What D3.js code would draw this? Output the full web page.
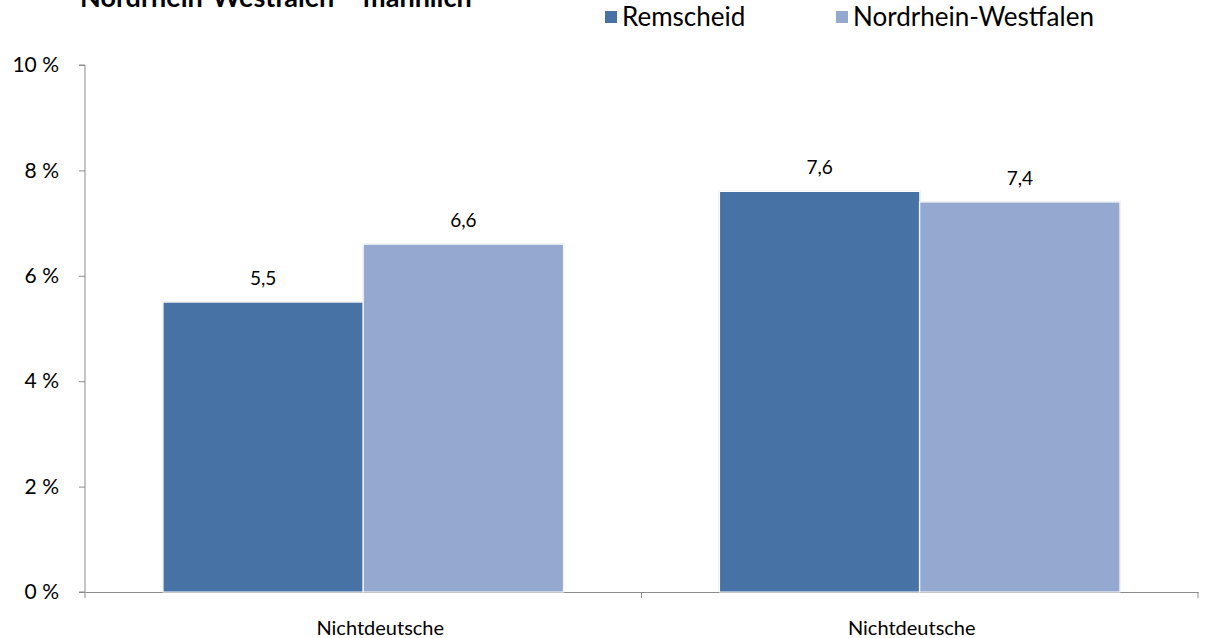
<!DOCTYPE html>
<html><head><meta charset="utf-8">
<script src="https://cdn.jsdelivr.net/npm/d3@7"></script>
<style>body{margin:0;background:#fff}svg{display:block;font-family:Lato,"Open Sans",sans-serif}</style>
</head><body><svg id="c" width="1205" height="638"></svg>
<script>
const title = "Nordrhein-Westfalen – männlich";
const categories = ["Nichtdeutsche", "Nichtdeutsche "];
const seriesNames = ["Remscheid", "Nordrhein-Westfalen"];
const remscheid = [5.5, 7.6];
const nrw = [6.6, 7.4];
const yTicks = [0, 2, 4, 6, 8, 10];
const colors = ["#4672A6", "#95A9D0"];

const svg = d3.select("#c");
const m = {l: 85, r: 1198, t: 65, b: 592};
const x = d3.scaleBand().domain(categories).range([m.l, m.r]);
const x1 = d3.scaleBand().domain(seriesNames).range([0, x.bandwidth()]).paddingOuter(0.39).paddingInner(0);
const y = d3.scaleLinear().domain([0, 10]).range([m.b, m.t]);

svg.append("text").attr("x", 80).attr("y", 7).attr("font-weight", "bold").attr("font-size", 27).attr("fill", "#000").text(title);

// y axis
const ya = svg.append("g").attr("transform", `translate(${m.l},0)`)
  .call(d3.axisLeft(y).tickValues(yTicks).tickSize(6).tickFormat(d => d + " %"));
ya.select(".domain").attr("stroke", "#8c8c8c").attr("d", `M-6,${m.t}H0V${m.b}H-6`);
ya.selectAll(".tick line").attr("stroke", "#8c8c8c");
ya.selectAll(".tick text").attr("font-size", 21).attr("fill", "#000").attr("x", -26).attr("font-family", "Lato, sans-serif");

// x axis
const xa = svg.append("g").attr("transform", `translate(0,${m.b})`)
  .call(d3.axisBottom(x).tickSize(0).tickSizeOuter(0));
xa.select(".domain").attr("stroke", "#8c8c8c");
const labelShift = [17, -8];
xa.selectAll(".tick text").attr("font-size", 20).attr("fill", "#000").attr("y", 0).attr("dy", 0)
  .attr("transform", (d, i) => `translate(${labelShift[i]},43)`).attr("font-family", "Lato, sans-serif");
const boundaries = [m.l, m.l + x.bandwidth(), m.r];
xa.selectAll(".bnd").data(boundaries).join("line").attr("x1", d => d).attr("x2", d => d)
  .attr("y1", 0).attr("y2", 6).attr("stroke", "#8c8c8c");

const data = categories.map((c, i) => ({c, vals: [remscheid[i], nrw[i]]}));
const g = svg.append("g");
data.forEach(d => {
  d.vals.forEach((v, j) => {
    const bx = x(d.c) + x1(seriesNames[j]);
    g.append("rect").attr("x", bx - 1).attr("y", y(v) - 1).attr("width", x1.bandwidth() + 2).attr("height", y(0) - y(v) + 1)
      .attr("fill", "#d9d9d9").attr("opacity", 0.6);
    g.append("rect").attr("x", bx).attr("y", y(v)).attr("width", x1.bandwidth()).attr("height", y(0) - y(v))
      .attr("fill", colors[j]).attr("stroke", "#fff").attr("stroke-width", 1);
    g.append("text").attr("x", bx + x1.bandwidth() / 2).attr("y", y(v) - 17).attr("text-anchor", "middle")
      .attr("font-size", 19).attr("fill", "#000").text(d3.format(".1f")(v).replace(".", ","));
  });
});

// legend
const lg = svg.append("g");
const lx = [605, 836];
seriesNames.forEach((s, i) => {
  lg.append("rect").attr("x", lx[i]).attr("y", 11).attr("width", 12).attr("height", 12).attr("fill", colors[i]);
  lg.append("text").attr("x", lx[i] + 17).attr("y", 26).attr("font-size", 26).attr("fill", "#000").text(s);
});
</script></body></html>
